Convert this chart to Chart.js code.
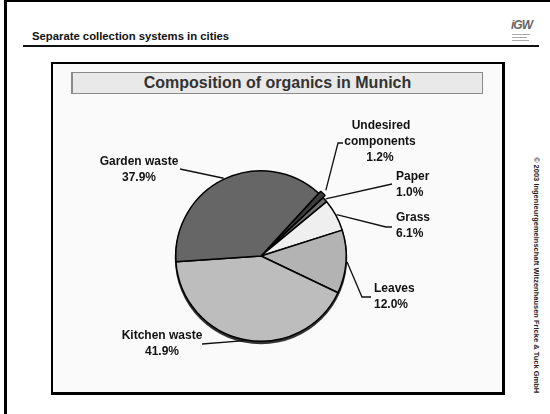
<!DOCTYPE html>
<html>
<head>
<meta charset="utf-8">
<script src="https://cdn.jsdelivr.net/npm/chart.js@4/dist/chart.umd.min.js"></script>
<style>
  body { margin: 0; width: 550px; height: 414px; background: #fff; position: relative; overflow: hidden;
         font-family: "Liberation Sans", Arial, sans-serif; }
  .abs { position: absolute; }
  #frameLeft { left: 4px; top: 0; width: 3px; height: 414px; background: #000; }
  #frameTop { left: 4px; top: 0; width: 546px; height: 2px; background: #000; }
  #header { left: 32px; top: 30px; font-size: 11.3px; font-weight: bold; color: #111; }
  #rule { left: 23px; top: 45px; width: 516px; height: 2px; background: #111; }
  #logo { left: 511px; top: 18px; font-size: 12px; font-weight: bold; font-style: italic; color: #666; letter-spacing: -1px; }
  .logoLine { background: #aaa; height: 1px; }
  #inner { left: 51px; top: 62px; width: 454px; height: 333px; box-sizing: border-box; background: #fafafa;
           border: 2px solid #000; border-right-width: 3px; border-bottom-width: 3px; }
  #titleBox { left: 71px; top: 72px; width: 412px; height: 22px; box-sizing: border-box; background: #e9e9e9;
              border: 1px solid #8a8a8a; border-left-width: 2px; text-align: center; line-height: 20px;
              font-size: 16px; font-weight: bold; color: #333; }
  #copy { left: 541px; top: 157px; transform-origin: 0 0; transform: rotate(90deg); white-space: nowrap;
          font-size: 7.5px; font-weight: bold; color: #222; }
  #chart { position: absolute; left: 0; top: 0; }
</style>
</head>
<body>
<div class="abs" id="frameLeft"></div>
<div class="abs" id="frameTop"></div>
<div class="abs" id="header">Separate collection systems in cities</div>
<div class="abs" id="rule"></div>
<div class="abs" id="logo">iGW</div>
<div class="abs logoLine" style="left:512px;top:34px;width:18px"></div>
<div class="abs logoLine" style="left:512px;top:37px;width:15px"></div>
<div class="abs logoLine" style="left:512px;top:40px;width:17px"></div>
<div class="abs" id="inner"></div>
<div class="abs" id="titleBox">Composition of organics in Munich</div>
<div class="abs" id="copy">© 2003 Ingenieurgemeinschaft Witzenhausen Fricke &amp; Tuck GmbH</div>
<canvas id="chart" width="550" height="414"></canvas>
<script>
const categories = ["Undesired components", "Paper", "Grass", "Leaves", "Kitchen waste", "Garden waste"];
const shares = [1.2, 1.0, 6.1, 12.0, 41.9, 37.9];
const labelLines = [
  ["Undesired", "components", "1.2%"],
  ["Paper", "1.0%"],
  ["Grass", "6.1%"],
  ["Leaves", "12.0%"],
  ["Kitchen waste", "41.9%"],
  ["Garden waste", "37.9%"]
];
const sliceColors = ["#3c3c3c", "#6e6e6e", "#efefef", "#b3b3b3", "#bdbdbd", "#666666"];

// where each label sits and how its leader bends (layout only)
const labelLayout = [
  { x: 381, y: 126, align: "center", bend: [[338, 143], [343, 143]] },
  { x: 396, y: 177, align: "left", bend: [[392, 184]] },
  { x: 396, y: 218, align: "left", bend: [[386, 227], [392, 227]] },
  { x: 374, y: 289, align: "left", bend: [[362, 297], [371, 297]] },
  { x: 162, y: 336, align: "center", bend: [[202, 344]] },
  { x: 139, y: 162, align: "center", bend: [[180, 169]] }
];

const pieLabels = {
  id: "pieLabels",
  beforeDatasetsDraw(chart) {
    const arc = chart.getDatasetMeta(0).data[1];
    if (!arc) return;
    const ctx = chart.ctx;
    ctx.save();
    ctx.fillStyle = "#333";
    ctx.beginPath();
    ctx.arc(arc.x, arc.y + 2, arc.outerRadius + 1, 0, Math.PI * 2);
    ctx.fill();
    ctx.restore();
  },
  afterDatasetsDraw(chart) {
    const ctx = chart.ctx;
    const meta = chart.getDatasetMeta(0);
    ctx.save();
    ctx.font = "bold 12px 'Liberation Sans', Arial, sans-serif";
    ctx.textBaseline = "middle";
    meta.data.forEach((el, i) => {
      const p = el.getProps(["x", "y", "startAngle", "endAngle", "outerRadius"], true);
      const mid = (p.startAngle + p.endAngle) / 2;
      const off = (el.options.offset || 0);
      const r = p.outerRadius + 1 + off;
      const lay = labelLayout[i];
      ctx.strokeStyle = "#111";
      ctx.lineWidth = 1.3;
      ctx.beginPath();
      ctx.moveTo(p.x + Math.cos(mid) * r, p.y + Math.sin(mid) * r);
      lay.bend.forEach(pt => ctx.lineTo(pt[0], pt[1]));
      ctx.stroke();
      ctx.fillStyle = "#111";
      labelLines[i].forEach((line, k) => {
        let x = lay.x;
        let y = lay.y + k * 16;
        if (i === 0 && k > 0) x = 380;
        if (i === 0 && k === 2) y = 158;
        ctx.textAlign = lay.align;
        ctx.fillText(line, x, y);
      });
    });
    ctx.restore();
  }
};

new Chart(document.getElementById("chart"), {
  type: "pie",
  data: {
    labels: categories,
    datasets: [{
      data: shares,
      backgroundColor: sliceColors,
      borderColor: "#000",
      borderWidth: 1.5,
      offset: [6, 0, 0, 0, 0, 0]
    }]
  },
  options: {
    responsive: false,
    animation: false,
    rotation: 42.5,
    layout: { padding: { left: 172, right: 200, top: 167, bottom: 69 } },
    plugins: {
      legend: { display: false },
      tooltip: { enabled: false },
      title: { display: false }
    }
  },
  plugins: [pieLabels]
});
</script>
</body>
</html>
